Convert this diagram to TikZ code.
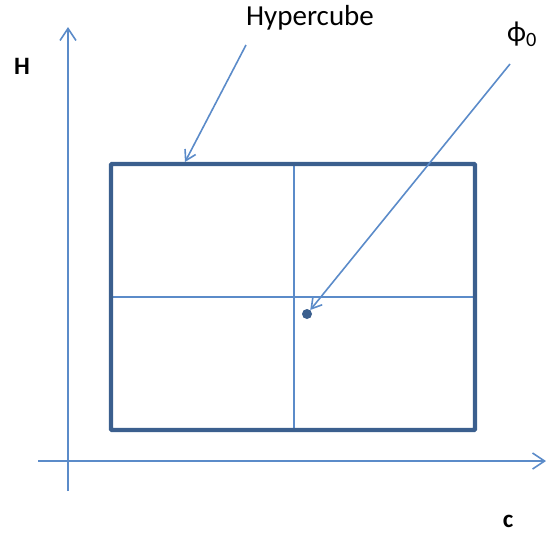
\documentclass[tikz,border=0pt]{standalone}
\usepackage{fontspec}
\setmainfont{Carlito}
\usetikzlibrary{arrows.meta}
\definecolor{thin}{HTML}{5B8BC9}
\definecolor{thick}{HTML}{3B5F8E}
\tikzset{
  axis/.style={draw=thin, line width=1.6pt, -{Straight Barb[length=12pt,width=16pt,line width=1.6pt]}},
  grid/.style={draw=thin, line width=1.6pt},
  pointer/.style={draw=thin, line width=1.6pt, -{Straight Barb[length=10pt,width=12pt,line width=1.6pt]}},
  box/.style={draw=thick, line width=4.4pt, rounded corners=1pt},
  lbl/.style={inner sep=0pt, font=\fontsize{29}{33}\selectfont},
  axlbl/.style={inner sep=0pt, font=\fontsize{25}{29}\selectfont\bfseries}
}
\begin{document}
\begin{tikzpicture}[x=1pt,y=-1pt]
\useasboundingbox (0,0) rectangle (546,539);
% axes
\coordinate (yb) at (68,491);
\coordinate (yt) at (68,27);
\coordinate (xl) at (38,461);
\coordinate (xr) at (546,461);
\draw[axis] (yb) -- (yt);
\draw[axis] (xl) -- (xr);
% hypercube
\coordinate (tl) at (111,164);
\coordinate (br) at (475,430);
\coordinate (mt) at (294,164);
\coordinate (mb) at (294,430);
\coordinate (ml) at (111,297);
\coordinate (mr) at (475,297);
\draw[grid] (mt) -- (mb);
\draw[grid] (ml) -- (mr);
\draw[box] (tl) rectangle (br);
% point
\node[circle, fill=thick, inner sep=0pt, minimum size=10pt] (phi) at (307,314) {};
% labels
\node[lbl] (hyp) at (310,18) {Hypercube};
\node[lbl] (phil) at (522,34) {ϕ\textsubscript{0}};
\node[axlbl] (H) at (22,66) {H};
\node[axlbl] (c) at (508,521) {c};
% pointers
\coordinate (hs) at (246,45);
\coordinate (he) at (185,162);
\coordinate (ps) at (510,64);
\draw[pointer] (hs) -- (he);
\draw[pointer] (ps) -- (phi);
\end{tikzpicture}
\end{document}
